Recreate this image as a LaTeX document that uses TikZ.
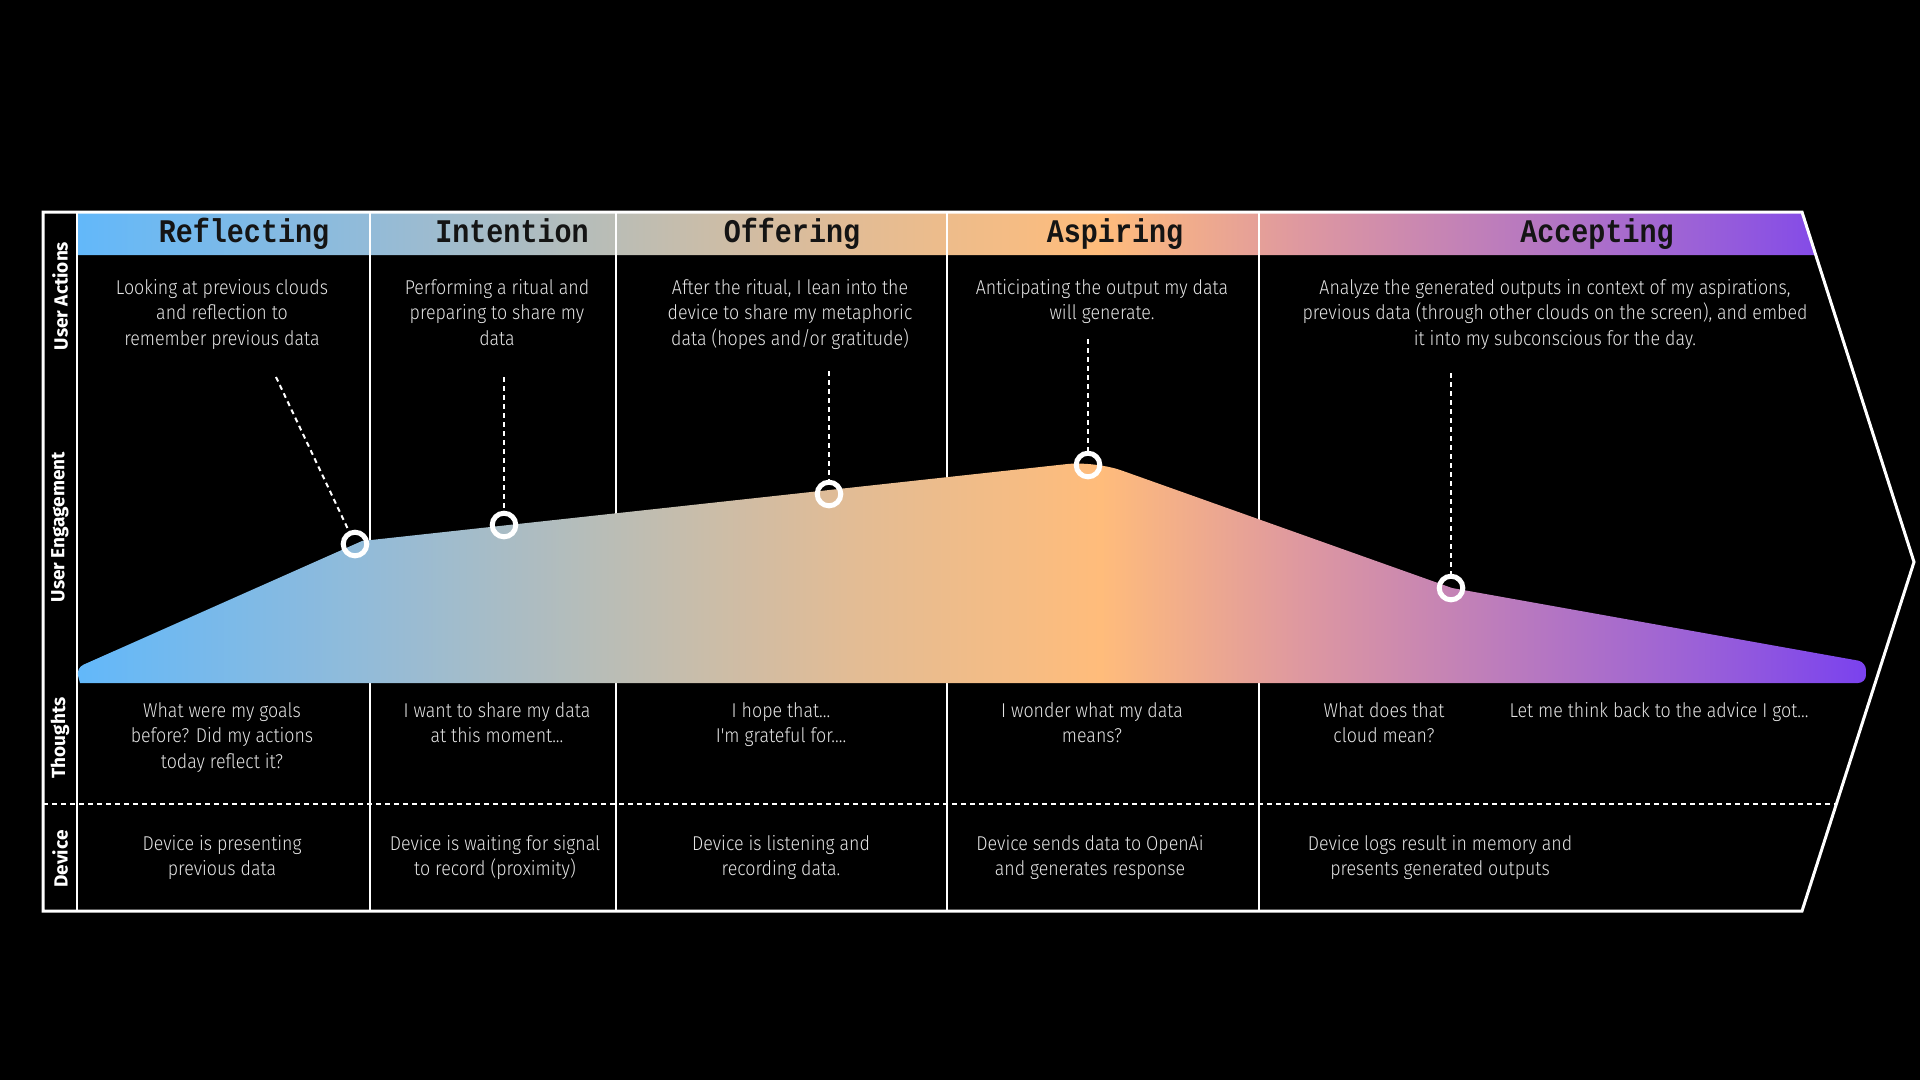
\documentclass[tikz,border=0pt]{standalone}
\usepackage{fontspec}
\setmainfont{Fira Sans}
\newfontfamily\bodyfont{Fira Sans Light}[FakeStretch=0.89]
\newfontfamily\titlefont{Liberation Mono}[FakeStretch=0.86]
\newfontfamily\sidefont{Fira Sans}

\definecolor{ink}{HTML}{E4E4E4}
\definecolor{titleink}{HTML}{141414}
\definecolor{g0}{HTML}{62B8FA}
\definecolor{g1}{HTML}{93BBD8}
\definecolor{g2}{HTML}{BBBDB5}
\definecolor{g3}{HTML}{E2BC95}
\definecolor{g4}{HTML}{FFBC7B}
\definecolor{g5}{HTML}{DE98A0}
\definecolor{g6}{HTML}{BC7CBC}
\definecolor{g7}{HTML}{9A60D8}
\definecolor{g8}{HTML}{7A42EE}

% colour ramp across the journey, from x = 77 to x = 1866
\pgfdeclarehorizontalshading{journey}{100bp}{
  color(0bp)=(g0); color(25bp)=(g0); color(33.2bp)=(g1); color(40.1bp)=(g2);
  color(46.6bp)=(g3); color(53.6bp)=(g4); color(59.2bp)=(g5); color(64.8bp)=(g6);
  color(70.4bp)=(g7); color(75bp)=(g8); color(100bp)=(g8)}

\tikzset{
  frame/.style={draw=white, line width=3pt, line join=miter},
  divider/.style={draw=white, line width=2.5pt},
  leader/.style={draw=white, line width=2pt, dash pattern=on 5pt off 4pt},
  rowsep/.style={draw=white, line width=2pt, dash pattern=on 5pt off 4pt},
  dot/.style={circle, draw=white, line width=5pt, minimum size=23.6pt, inner sep=0pt},
  body/.style={font=\bodyfont\fontsize{20}{25.7}\selectfont, text=ink, align=center, anchor=north, inner sep=0pt},
  stage/.style={font=\titlefont\bfseries\fontsize{33}{33}\selectfont, text=titleink, anchor=base, inner sep=0pt},
  lane/.style={font=\sidefont\bfseries\fontsize{19}{19}\selectfont, text=white, rotate=90, inner sep=0pt},
}

\begin{document}
\begin{tikzpicture}[x=1pt, y=-1pt]
\useasboundingbox (0,0) rectangle (1920,1080);
\fill[black] (0,0) rectangle (1920,1080);

% stage header band
\begin{scope}
  \clip (77,212) -- (1802,212) -- (1816,255) -- (77,255) -- cycle;
  \shade[shading=journey] (77,200) rectangle (1866,700);
\end{scope}

% outer arrow frame and lane column
\draw[frame] (43,212) -- (1802,212) -- (1914,562) -- (1802,911) -- (43,911) -- cycle;
\draw[divider] (77,212) -- (77,911);
\foreach \x in {370,616,947,1259} \draw[divider] (\x,212) -- (\x,911);
\draw[rowsep] (43,804) -- (1836,804);

% engagement curve
\begin{scope}
  \clip (80,683) [rounded corners=8pt] -- (76,668) [sharp corners] -- (362,541)
        [rounded corners=28pt] -- (1095,461) [sharp corners] -- (1452,588)
        [rounded corners=8pt] -- (1866,662) -- (1866,683) [sharp corners] -- cycle;
  \shade[shading=journey] (77,200) rectangle (1866,700);
\end{scope}

% engagement markers
\node[dot] (c1) at (355,544) {};
\node[dot] (c2) at (504,525) {};
\node[dot] (c3) at (829,494) {};
\node[dot] (c4) at (1088,465) {};
\node[dot] (c5) at (1451,588) {};

\coordinate (l1) at (276,377);
\coordinate (l2) at (504,377);
\coordinate (l3) at (829,371);
\coordinate (l4) at (1088,339);
\coordinate (l5) at (1451,373);
\draw[leader] (l1) -- (c1);
\draw[leader] (l2) -- (c2);
\draw[leader] (l3) -- (c3);
\draw[leader] (l4) -- (c4);
\draw[leader] (l5) -- (c5);

% lane labels
\node[lane] (lnA) at (60,296) {User Actions};
\node[lane] (lnE) at (60,527) {User Engagement};
\node[lane] (lnT) at (60,738) {Thoughts};
\node[lane] (lnD) at (60,859) {Device};

% stage titles
\node[stage] (s1) at (244,242) {Reflecting};
\node[stage] (s2) at (512,242) {Intention};
\node[stage] (s3) at (792,242) {Offering};
\node[stage] (s4) at (1115,242) {Aspiring};
\node[stage] (s5) at (1597,242) {Accepting};

% user actions
\node[body] (a1) at (222,279) {Looking at previous clouds\\and reflection to\\remember previous data};
\node[body] (a2) at (497,279) {Performing a ritual and\\preparing to share my\\data};
\node[body] (a3) at (790,279) {After the ritual, I lean into the\\device to share my metaphoric\\data (hopes and/or gratitude)};
\node[body] (a4) at (1102,279) {Anticipating the output my data\\will generate.};
\node[body] (a5) at (1555,279) {Analyze the generated outputs in context of my aspirations,\\previous data (through other clouds on the screen), and embed\\it into my subconscious for the day.};

% thoughts
\node[body] (t1) at (222,702) {What were my goals\\before? Did my actions\\today reflect it?};
\node[body] (t2) at (497,702) {I want to share my data\\at this moment...};
\node[body] (t3) at (781,702) {I hope that...\\I'm grateful for....};
\node[body] (t4) at (1092,702) {I wonder what my data\\means?};
\node[body] (t5) at (1384,702) {What does that\\cloud mean?};
\node[body] (t6) at (1659,702) {Let me think back to the advice I got...};

% device
\node[body] (d1) at (222,835) {Device is presenting\\previous data};
\node[body] (d2) at (495,835) {Device is waiting for signal\\to record (proximity)};
\node[body] (d3) at (781,835) {Device is listening and\\recording data.};
\node[body] (d4) at (1090,835) {Device sends data to OpenAi\\and generates response};
\node[body] (d5) at (1440,835) {Device logs result in memory and\\presents generated outputs};
\end{tikzpicture}
\end{document}
